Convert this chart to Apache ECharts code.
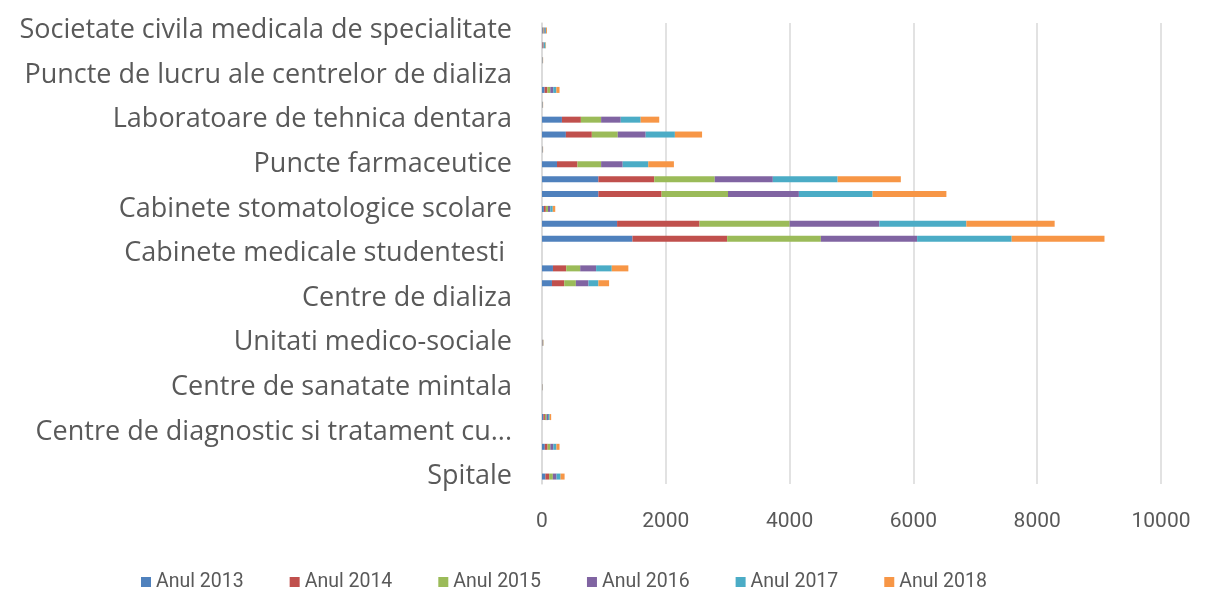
<!DOCTYPE html>
<html>
<head>
<meta charset="utf-8">
<script src="https://cdn.jsdelivr.net/npm/echarts@6/dist/echarts.min.js"></script>
<style>
  html, body { margin: 0; padding: 0; background: #fff; }
  #chart { width: 1207px; height: 602px; }
</style>
</head>
<body>
<div id="chart"></div>
<script>
// categorii (de jos in sus), doar fiecare a treia eticheta e afisata
const categories = [
  'Spitale',
  'Ambulatorii integrate spitalului',
  'Ambulatorii de specialitate',
  'Centre de diagnostic si tratament cu...',
  'Centre medicale de specialitate',
  'Centre de sanatate',
  'Centre de sanatate mintala',
  'Dispensare TBC',
  'Laboratoare de sanatate mintala',
  'Unitati medico-sociale',
  'Sanatorii TBC',
  'Preventorii',
  'Centre de dializa',
  'Cabinete medicale scolare',
  'Cabinete medicale de medicina generala',
  'Cabinete medicale studentesti ',
  'Cabinete medicale de specialitate',
  'Cabinete stomatologice',
  'Cabinete stomatologice scolare',
  'Cabinete medicale de familie',
  'Farmacii',
  'Puncte farmaceutice',
  'Depozite farmaceutice',
  'Laboratoare medicale',
  'Laboratoare de tehnica dentara',
  'Centre de transfuzie',
  'Alte tipuri de cabinete',
  'Puncte de lucru ale centrelor de dializa',
  'Cabinete de medicina dentara',
  'Centre medicale',
  'Societate civila medicala de specialitate'
]

const years = ['Anul 2013', 'Anul 2014', 'Anul 2015', 'Anul 2016', 'Anul 2017', 'Anul 2018']

const an2013 = [55, 0, 45, 0, 22, 0, 2, 0, 0, 4, 0, 0, 0, 161, 177, 0, 1461, 1213, 30, 911, 911, 242, 3, 386, 322, 3, 42, 0, 3, 8, 12]
const an2014 = [60, 0, 45, 0, 25, 0, 2, 0, 0, 4, 0, 0, 0, 198, 214, 0, 1530, 1332, 32, 1021, 902, 331, 3, 419, 306, 3, 45, 0, 3, 8, 12]
const an2015 = [60, 0, 45, 0, 25, 0, 2, 0, 0, 4, 0, 0, 0, 188, 226, 0, 1514, 1456, 35, 1073, 978, 382, 3, 419, 327, 3, 47, 0, 3, 8, 13]
const an2016 = [60, 0, 48, 0, 25, 0, 2, 0, 0, 4, 0, 0, 0, 204, 257, 0, 1555, 1449, 37, 1145, 938, 349, 3, 451, 317, 3, 48, 0, 3, 8, 13]
const an2017 = [65, 0, 50, 0, 26, 0, 2, 0, 0, 5, 0, 0, 0, 160, 253, 0, 1528, 1405, 40, 1191, 1047, 413, 3, 472, 322, 3, 50, 0, 3, 25, 15]
const an2018 = [65, 0, 50, 0, 25, 0, 2, 0, 0, 5, 0, 0, 0, 173, 268, 0, 1499, 1427, 40, 1192, 1021, 414, 3, 439, 300, 3, 51, 0, 3, 8, 15]

const xTicks = [0, 2000, 4000, 6000, 8000, 10000]

const seriesValues = [an2013, an2014, an2015, an2016, an2017, an2018]
const colors = ['#4F81BD', '#C0504D', '#9BBB59', '#8064A2', '#4BACC6', '#F79646']

const chartInstance = echarts.init(document.getElementById('chart'))

const option = {
  animation: false,
  color: colors,
  grid: {
    left: 542,
    right: 46,
    top: 23,
    bottom: 118
  },
  legend: {
    bottom: 5,
    left: 136,
    icon: 'rect',
    itemWidth: 10,
    itemHeight: 10,
    itemGap: 46,
    textStyle: {
      fontFamily: 'Roboto, sans-serif',
      fontSize: 19.5,
      color: '#595959'
    },
    data: years
  },
  xAxis: {
    type: 'value',
    min: xTicks[0],
    max: xTicks[xTicks.length - 1],
    interval: 2000,
    axisLine: { show: false },
    axisTick: { show: false },
    axisLabel: {
      margin: 27,
      fontFamily: 'Roboto, sans-serif',
      fontSize: 21,
      color: '#595959',
      formatter: (v) => String(v) // fara separator de mii
    },
    splitLine: {
      lineStyle: { color: '#d9d9d9', width: 1.5 }
    }
  },
  yAxis: {
    type: 'category',
    data: categories,
    axisLine: {
      show: true,
      lineStyle: { color: '#d9d9d9', width: 1.5 }
    },
    axisTick: { show: false },
    axisLabel: {
      interval: 2,
      margin: 30,
      fontFamily: 'Open Sans, sans-serif',
      fontSize: 27,
      color: '#595959'
    }
  },
  series: seriesValues.map((vals, i) => {
    return {
      name: years[i],
      type: 'bar',
      stack: 'total',
      barWidth: 6,
      data: vals
    }
  })
}

chartInstance.setOption(option)
</script>
</body>
</html>
